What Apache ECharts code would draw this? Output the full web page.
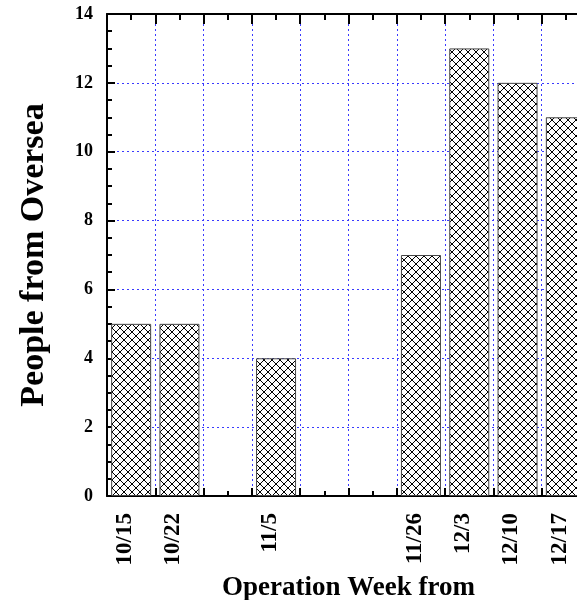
<!DOCTYPE html>
<html>
<head>
<meta charset="utf-8">
<script src="https://cdn.jsdelivr.net/npm/echarts@6/dist/echarts.min.js"></script>
<style>
  html, body { margin: 0; padding: 0; background: #fff; }
  #chart { width: 577px; height: 600px; }
</style>
</head>
<body>
<div id="chart"></div>
<script>
var weeks = ['10/15', '10/22', '10/29', '11/5', '11/12', '11/19', '11/26', '12/3', '12/10', '12/17'];
var people = [5, 5, null, 4, null, null, 7, 13, 12, 11];
var yTicks = [0, 2, 4, 6, 8, 10, 12, 14];

var serif = "'Liberation Serif', 'Times New Roman', serif";
var gridBlue = '#3a3aff';

// crosshatch fill for the bars
function hatch() {
  var c = document.createElement('canvas');
  c.width = 8;
  c.height = 8;
  var ctx = c.getContext('2d');
  ctx.fillStyle = '#fff';
  ctx.fillRect(0, 0, 8, 8);
  ctx.strokeStyle = '#000';
  ctx.lineWidth = 1;
  ctx.beginPath();
  ctx.moveTo(0, 0); ctx.lineTo(8, 8);
  ctx.moveTo(8, 0); ctx.lineTo(0, 8);
  ctx.stroke();
  return c;
}

var chart = echarts.init(document.getElementById('chart'), null, { renderer: 'canvas' });

var option = {
  animation: false,
  backgroundColor: '#fff',
  grid: { left: 107, top: 14, width: 483, height: 482, outerBoundsMode: 'none', containLabel: false },
  xAxis: [{
    type: 'category',
    data: weeks,
    position: 'bottom',
    axisLine: { lineStyle: { color: '#000', width: 2 } },
    axisTick: { show: false },
    splitLine: { show: false },
    axisLabel: {
      rotate: 90,
      margin: 17,
      color: '#000',
      fontFamily: serif,
      fontWeight: 'bold',
      fontSize: 23,
      lineHeight: 12,
      verticalAlign: 'bottom',
      formatter: function (v, i) { return people[i] == null ? '' : v; }
    },
    name: 'Operation Week from',
    nameLocation: 'middle',
    nameGap: 79,
    nameMoveOverlap: false,
    nameTextStyle: { color: '#000', fontFamily: serif, fontWeight: 'bold', fontSize: 27 }
  }, {
    type: 'value',
    min: 0,
    max: weeks.length,
    interval: 1,
    position: 'bottom',
    axisLine: { show: false },
    axisLabel: { show: false },
    axisTick: { inside: true, length: 8, lineStyle: { color: '#000', width: 2 } },
    minorTick: { show: true, splitNumber: 2, length: 5, lineStyle: { color: '#000', width: 2 } },
    splitLine: { show: true, lineStyle: { color: gridBlue, width: 1, type: [2, 3] } }
  }, {
    type: 'value',
    min: 0,
    max: weeks.length,
    interval: 1,
    position: 'top',
    axisLine: { show: true, lineStyle: { color: '#000', width: 2 } },
    axisLabel: { show: false },
    axisTick: { inside: true, length: 10, lineStyle: { color: '#000', width: 2 } },
    minorTick: { show: true, splitNumber: 2, length: 6, lineStyle: { color: '#000', width: 2 } },
    splitLine: { show: false }
  }],
  yAxis: {
    type: 'value',
    min: yTicks[0],
    max: yTicks[yTicks.length - 1],
    interval: 2,
    axisLine: { show: true, lineStyle: { color: '#000', width: 2 } },
    axisTick: { inside: true, length: 8, lineStyle: { color: '#000', width: 2 } },
    minorTick: { show: true, splitNumber: 4, length: 5, lineStyle: { color: '#000', width: 2 } },
    splitLine: { show: true, lineStyle: { color: gridBlue, width: 1, type: [2, 3] } },
    axisLabel: {
      margin: 14,
      color: '#000',
      fontFamily: serif,
      fontWeight: 'bold',
      fontSize: 18
    },
    name: 'People from Oversea',
    nameLocation: 'middle',
    nameGap: 56,
    nameRotate: 90,
    nameMoveOverlap: false,
    nameTextStyle: { color: '#000', fontFamily: serif, fontWeight: 'bold', fontSize: 34 }
  },
  series: [{
    type: 'bar',
    xAxisIndex: 0,
    data: people,
    barWidth: 40,
    itemStyle: {
      color: { image: hatch(), repeat: 'repeat' },
      borderColor: '#444',
      borderWidth: 1
    }
  }]
};

chart.setOption(option);
</script>
</body>
</html>
